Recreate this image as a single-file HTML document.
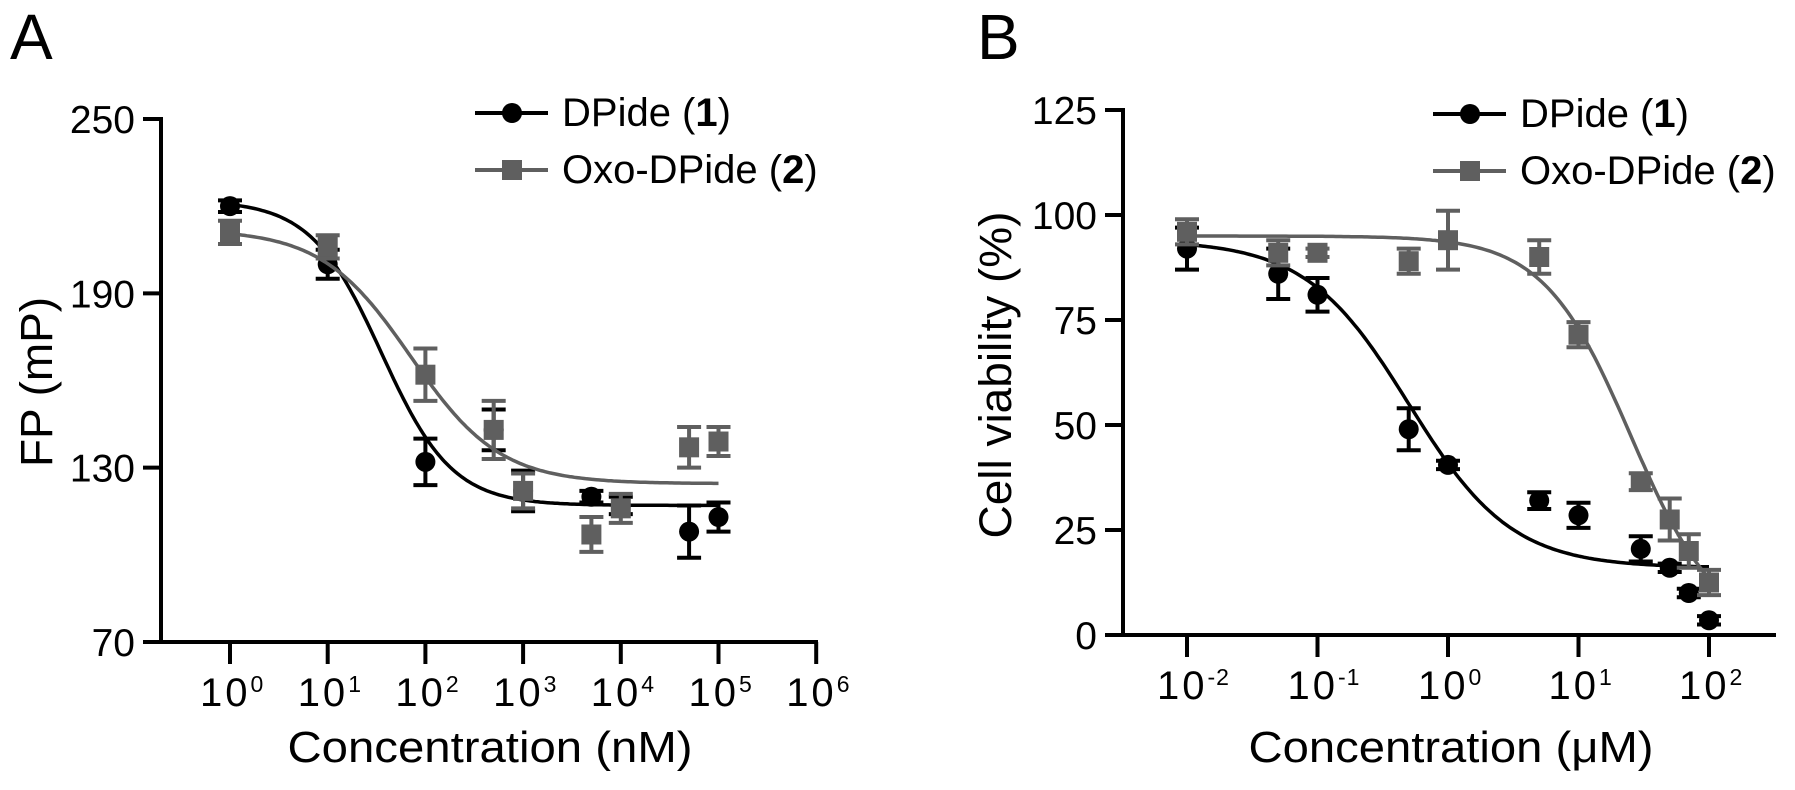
<!DOCTYPE html>
<html><head><meta charset="utf-8"><style>
html,body{margin:0;padding:0;background:#fff;}
svg{display:block;font-family:"Liberation Sans",Arial,sans-serif;}
</style></head><body>
<svg id="fig" width="1795" height="790" viewBox="0 0 1795 790">
<text x="10" y="59" font-size="64">A</text>
<text x="977" y="59" font-size="64">B</text>
<g id="pa"></g>
<g id="pb"></g>
</svg>
<script>
// ---------- Panel A data ----------
const concA = [1, 10, 100, 500, 1000, 5000, 10000, 50000, 100000];
const dpideA = [220, 200, 132, 143, 122, 120, 117, 108, 113];
const dpideAErr = [2, 5, 8, 7, 7, 2, 3, 9, 5];
const oxoA = [211, 206, 162, 143, 122, 107, 116, 137, 139];
const oxoAErr = [4, 4, 9, 10, 6, 6, 5, 7, 5];
const yTicksA = [70, 130, 190, 250];
const xTickExpA = [0, 1, 2, 3, 4, 5, 6];
// fit params [top, bottom, logEC50, hill]
const fitDpideA = [222, 117, 1.55, 1.2];
const fitOxoA = [212, 124.5, 1.85, 0.95];
// ---------- Panel B data ----------
const concB = [0.01, 0.05, 0.1, 0.5, 1, 5, 10, 30, 50, 70, 100];
const dpideB = [92, 86, 81, 49, 40.5, 32, 28.5, 20.5, 16, 10, 3.5];
const dpideBErr = [5, 6, 4, 5, 1, 2, 3, 3, 1, 1, 1];
const oxoB = [96, 91, 91, 89, 94, 90, 71.5, 36.5, 27.5, 20, 12.5];
const oxoBErr = [3, 3, 1, 3, 7, 4, 3, 2, 5, 4, 3];
const yTicksB = [0, 25, 50, 75, 100, 125];
const xTickExpB = [-2, -1, 0, 1, 2];
const fitDpideB = [94, 16, -0.3, 1.1];
const fitOxoB = [95, 0, 1.4, 1.3];

const NS = "http://www.w3.org/2000/svg";
function mk(parent, tag, attrs) {
  const e = document.createElementNS(NS, tag);
  for (const k in attrs) e.setAttribute(k, attrs[k]);
  parent.appendChild(e);
  return e;
}
const BLACK = "#000", GRAY = "#5f5f5f";

function panel(g, cfg) {
  const xs = v => cfg.x0 + (Math.log10(v) - cfg.e0) * cfg.dec;
  const ys = v => cfg.yb - (v - cfg.ymin) / (cfg.ymax - cfg.ymin) * (cfg.yb - cfg.yt);
  const ya = mk(g, "line", {x1: cfg.ax, y1: cfg.yt - 2, x2: cfg.ax, y2: cfg.yb, stroke: BLACK, "stroke-width": 4});
  
  
  const xa = mk(g, "line", {x1: cfg.ax - 18, y1: cfg.yb, x2: cfg.xend, y2: cfg.yb, stroke: BLACK, "stroke-width": 4});
  
  
  cfg.yTicks.forEach(t => {
    const y = ys(t);
    const tl = mk(g, "line", {x1: cfg.ax - 18, y1: y, x2: cfg.ax, y2: y, stroke: BLACK, "stroke-width": 4});
    
    
    const tx = mk(g, "text", {x: cfg.ax - 26, y: y + 14, "font-size": 39, "text-anchor": "end"});
    tx.textContent = String(t);
    
    
  });
  cfg.xExp.forEach(e => {
    const x = xs(Math.pow(10, e));
    const tl = mk(g, "line", {x1: x, y1: cfg.yb, x2: x, y2: cfg.yb + 22, stroke: BLACK, "stroke-width": 4});
    
    
    const tx = mk(g, "text", {x: x - 30, y: cfg.yb + 64, "font-size": 40, "letter-spacing": 3});
    
    
    const t1 = mk(tx, "tspan", {});
    t1.textContent = "10";
    const t2 = mk(tx, "tspan", {"font-size": 23, dy: -14, "letter-spacing": 1});
    t2.textContent = e < 0 ? "-" + (-e) : String(e);
  });
  const xt = mk(g, "text", {x: cfg.xtX, y: 762, "font-size": 44, "text-anchor": "middle", textLength: cfg.xtLen, lengthAdjust: "spacingAndGlyphs"});
  xt.textContent = cfg.xTitle;
  
  
  const yt = mk(g, "text", {x: 0, y: 0, "font-size": 45, "text-anchor": "middle", transform: `translate(${cfg.ytX},${cfg.ytY}) rotate(-90)`, textLength: cfg.ytLen, lengthAdjust: "spacingAndGlyphs"});
  yt.textContent = cfg.yTitle;
  
  

  cfg.series.forEach(s => {
    const [top, bot, ec, h] = s.fit;
    let d = "";
    const lo = Math.log10(cfg.conc[0]), hi = Math.log10(cfg.conc[cfg.conc.length - 1]);
    for (let i = 0; i <= 200; i++) {
      const lx = lo + (hi - lo) * i / 200;
      const v = bot + (top - bot) / (1 + Math.pow(10, (lx - ec) * h));
      d += (i ? "L" : "M") + xs(Math.pow(10, lx)).toFixed(1) + "," + ys(v).toFixed(1);
    }
    const c = mk(g, "path", {d: d, fill: "none", stroke: s.color, "stroke-width": 3.5});
    
    
    cfg.conc.forEach((cv, i) => {
      const x = xs(cv), y = ys(s.vals[i]);
      const e = s.err[i];
      const y1 = ys(s.vals[i] + e), y2 = ys(s.vals[i] - e);
      const eb = mk(g, "path", {d: `M${x},${y1}V${y2}M${x - 12},${y1}H${x + 12}M${x - 12},${y2}H${x + 12}`, stroke: s.color, "stroke-width": 4, fill: "none"});
      
      
      let m;
      if (s.shape === "circle") m = mk(g, "circle", {cx: x, cy: y, r: 10, fill: s.color});
      else m = mk(g, "rect", {x: x - 10, y: y - 10, width: 20, height: 20, fill: s.color});
      
      
    });
  });
  cfg.series.forEach((s, i) => {
    const ly = cfg.legY + i * 57;
    const lg = mk(g, "g", {});
    
    
    mk(lg, "line", {x1: cfg.legX, y1: ly, x2: cfg.legX + 73, y2: ly, stroke: s.color, "stroke-width": 4});
    if (s.shape === "circle") mk(lg, "circle", {cx: cfg.legX + 37, cy: ly, r: 10, fill: s.color});
    else mk(lg, "rect", {x: cfg.legX + 27, y: ly - 10, width: 20, height: 20, fill: s.color});
    const t = mk(lg, "text", {x: cfg.legX + 87, y: ly + 13, "font-size": 40});
    const a = mk(t, "tspan", {}); a.textContent = s.label + " (";
    const b = mk(t, "tspan", {"font-weight": "bold"}); b.textContent = s.num;
    const c = mk(t, "tspan", {}); c.textContent = ")";
  });
}

panel(document.getElementById("pa"), {
  ax: 161, yt: 119, yb: 642, ymin: 70, ymax: 250, x0: 230, e0: 0, dec: 97.7, xend: 818,
  yTicks: yTicksA, xExp: xTickExpA, conc: concA,
  xTitle: "Concentration (nM)", xtX: 490, xtLen: 405,
  yTitle: "FP (mP)", ytX: 52, ytY: 382, ytLen: 170,
  legX: 475, legY: 113,
  series: [
    {key: "dpide", label: "DPide", num: "1", color: BLACK, shape: "circle", vals: dpideA, err: dpideAErr, fit: fitDpideA},
    {key: "oxo-dpide", label: "Oxo-DPide", num: "2", color: GRAY, shape: "square", vals: oxoA, err: oxoAErr, fit: fitOxoA}
  ]
});
panel(document.getElementById("pb"), {
  ax: 1123, yt: 110, yb: 635, ymin: 0, ymax: 125, x0: 1187, e0: -2, dec: 130.5, xend: 1776,
  yTicks: yTicksB, xExp: xTickExpB, conc: concB,
  xTitle: "Concentration (\u03bcM)", xtX: 1451, xtLen: 405,
  yTitle: "Cell viability (%)", ytX: 1011, ytY: 375, ytLen: 327,
  legX: 1433, legY: 114,
  series: [
    {key: "dpide", label: "DPide", num: "1", color: BLACK, shape: "circle", vals: dpideB, err: dpideBErr, fit: fitDpideB},
    {key: "oxo-dpide", label: "Oxo-DPide", num: "2", color: GRAY, shape: "square", vals: oxoB, err: oxoBErr, fit: fitOxoB}
  ]
});
</script>
</body></html>
